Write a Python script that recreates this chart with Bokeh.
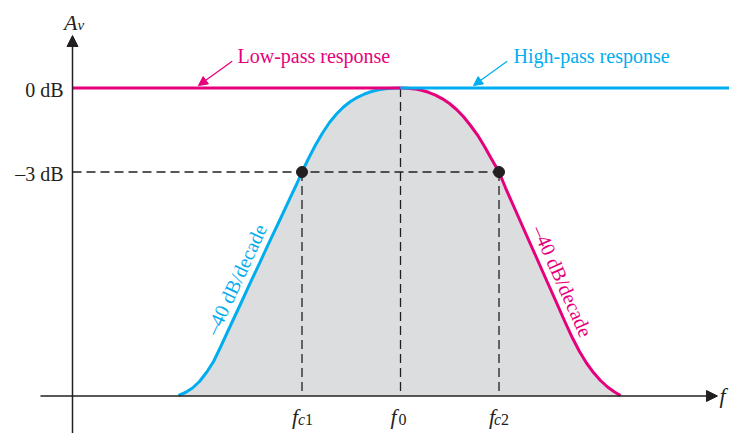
from bokeh.plotting import figure
from bokeh.models import Range1d, Arrow, NormalHead, ColumnDataSource
from bokeh.core.properties import value
from bokeh.embed import file_html
from bokeh.resources import INLINE
import math

# ---- data (x: frequency position, f0 = 0, fc1 = -1, fc2 = +1; y: gain in dB) ----
level_values = [0, -3]
level_labels = ["0 dB", "\u20133 dB"]
freq_values = [-1.0, 0.0, 1.0]
freq_sub_letters = ["c", "", "c"]
freq_sub_digits = ["1", "0", "2"]
floor_db = -11.0
yaxis_pos = -3.33

# high-pass (rising) skirt, cyan
hp_x = [-2.254, -2.183, -2.112, -2.041, -1.970, -1.898, -1.827, -1.726, -1.624, -1.523,
        -1.421, -1.320, -1.218, -1.117, -1.056, -1.0, -0.934, -0.863, -0.792, -0.721,
        -0.650, -0.579, -0.508, -0.437, -0.365, -0.294, -0.223, -0.152, -0.081, 0.0]
hp_y = [-10.98, -10.875, -10.714, -10.482, -10.161, -9.768, -9.250, -8.482, -7.714, -6.946,
        -6.179, -5.411, -4.661, -3.900, -3.446, -3.0, -2.518, -2.036, -1.607, -1.232,
        -0.929, -0.679, -0.482, -0.332, -0.214, -0.125, -0.064, -0.025, -0.007, 0.0]
# low-pass (falling) skirt, magenta
lp_x = [0.0, 0.071, 0.142, 0.213, 0.284, 0.355, 0.426, 0.497, 0.569, 0.640, 0.711,
        0.782, 0.853, 0.924, 1.0, 1.066, 1.168, 1.269, 1.371, 1.472, 1.574, 1.675,
        1.746, 1.817, 1.888, 1.959, 2.030, 2.102, 2.173, 2.234]
lp_y = [0.0, -0.007, -0.032, -0.082, -0.154, -0.254, -0.386, -0.554, -0.768, -1.029, -1.339,
        -1.679, -2.089, -2.536, -3.0, -3.564, -4.375, -5.179, -5.982, -6.786, -7.589, -8.393,
        -8.929, -9.411, -9.821, -10.161, -10.446, -10.679, -10.857, -10.98]

MAG = "#E6007E"
CYAN = "#00AEEF"
INK = "#231F20"
FONT = value("Liberation Serif")

p = figure(width=729, height=433, output_backend="svg", toolbar_location=None,
           x_range=Range1d(-4.061, 3.340), y_range=Range1d(-12.339, 3.125),
           min_border=0, outline_line_color=None)
p.axis.visible = False
p.grid.visible = False
p.background_fill_color = "white"

# shaded pass band
fill_x = hp_x + lp_x[1:]
fill_y = hp_y + lp_y[1:]
p.varea(x=fill_x, y1=[floor_db] * len(fill_x), y2=fill_y, fill_color="#DCDDDE")

# dashed guides
p.segment(x0=[yaxis_pos], y0=[level_values[1]], x1=[freq_values[2]], y1=[level_values[1]],
          line_color=INK, line_width=1.3, line_dash="9 5")
p.segment(x0=freq_values, y0=[level_values[1], level_values[0], level_values[1]],
          x1=freq_values, y1=[floor_db] * 3,
          line_color=INK, line_width=1.3, line_dash="9 5")

# responses
p.line(hp_x, hp_y, line_color=CYAN, line_width=3, line_join="round")
p.line(lp_x, lp_y, line_color=MAG, line_width=3, line_join="round")
p.line([yaxis_pos, 0.0], [0, 0], line_color=MAG, line_width=3)
p.line([0.0, 3.40], [0, 0], line_color=CYAN, line_width=3)

# axes with arrow heads
p.add_layout(Arrow(end=NormalHead(size=11, fill_color=INK, line_color=INK),
                   x_start=-3.655, y_start=floor_db, x_end=3.218, y_end=floor_db,
                   line_color=INK, line_width=1.5))
p.add_layout(Arrow(end=NormalHead(size=11, fill_color=INK, line_color=INK),
                   x_start=yaxis_pos, y_start=-12.6, x_end=yaxis_pos, y_end=1.875,
                   line_color=INK, line_width=1.5))

# -3 dB points
p.scatter([freq_values[0], freq_values[2]], [level_values[1], level_values[1]],
          size=11, fill_color=INK, line_color=INK)

# y labels
p.text(x=[yaxis_pos - 0.09] * 2, y=level_values, text=level_labels,
       text_font=FONT, text_font_size="20px", text_color=INK,
       text_align="right", text_baseline="middle", y_offset=2)

# frequency labels: italic f with subscript
p.text(x=freq_values, y=[floor_db] * 3, text=["f"] * 3, text_font=FONT,
       text_font_style="italic", text_font_size="22px", text_color=INK,
       text_align="right", text_baseline="alphabetic", x_offset=-4, y_offset=20)
letter_src = ColumnDataSource(dict(x=freq_values, y=[floor_db] * 3, t=freq_sub_letters,
                                   xo=[-4, -2, -5]))
p.text(x="x", y="y", text="t", source=letter_src, text_font=FONT,
       text_font_style="italic", text_font_size="16px", text_color=INK,
       text_align="left", text_baseline="alphabetic", x_offset="xo", y_offset=23)
digit_src = ColumnDataSource(dict(x=freq_values, y=[floor_db] * 3, t=freq_sub_digits,
                                  xo=[3, -2, 2]))
p.text(x="x", y="y", text="t", source=digit_src, text_font=FONT,
       text_font_size="16px", text_color=INK,
       text_align="left", text_baseline="alphabetic", x_offset="xo", y_offset=23)

# axis names
p.text(x=[yaxis_pos], y=[0], text=["A"], text_font=FONT, text_font_style="italic",
       text_font_size="22px", text_color=INK, text_align="right",
       text_baseline="alphabetic", x_offset=5, y_offset=-66)
p.text(x=[yaxis_pos], y=[0], text=["v"], text_font=FONT, text_font_style="italic",
       text_font_size="15px", text_color=INK, text_align="left",
       text_baseline="alphabetic", x_offset=5, y_offset=-63)
p.text(x=[3.239], y=[floor_db], text=["f"], text_font=FONT, text_font_style="italic",
       text_font_size="22px", text_color=INK, text_align="left",
       text_baseline="alphabetic", y_offset=-1)

# callouts
p.text(x=[-1.655], y=[1.16], text=["Low-pass response"], text_font=FONT,
       text_font_size="20px", text_color=MAG, text_baseline="alphabetic")
p.text(x=[1.147], y=[1.16], text=["High-pass response"], text_font=FONT,
       text_font_size="20px", text_color=CYAN, text_baseline="alphabetic")
p.add_layout(Arrow(end=NormalHead(size=9, fill_color=MAG, line_color=MAG),
                   x_start=-1.709, y_start=0.957, x_end=-2.051, y_end=0.089,
                   line_color=MAG, line_width=1.3))
p.add_layout(Arrow(end=NormalHead(size=9, fill_color=CYAN, line_color=CYAN),
                   x_start=1.083, y_start=0.957, x_end=0.741, y_end=0.089,
                   line_color=CYAN, line_width=1.3))

# slope annotations
p.text(x=[-1.67], y=[-6.84], text=["\u201340 dB/decade"], text_font=FONT,
       text_font_size="20px", text_color=CYAN, text_align="center",
       text_baseline="middle", angle=math.radians(65.1))
p.text(x=[1.645], y=[-6.90], text=["\u201340 dB/decade"], text_font=FONT,
       text_font_size="20px", text_color=MAG, text_align="center",
       text_baseline="middle", angle=math.radians(-66.0))

open("out.html", "w").write(file_html(p, INLINE))
